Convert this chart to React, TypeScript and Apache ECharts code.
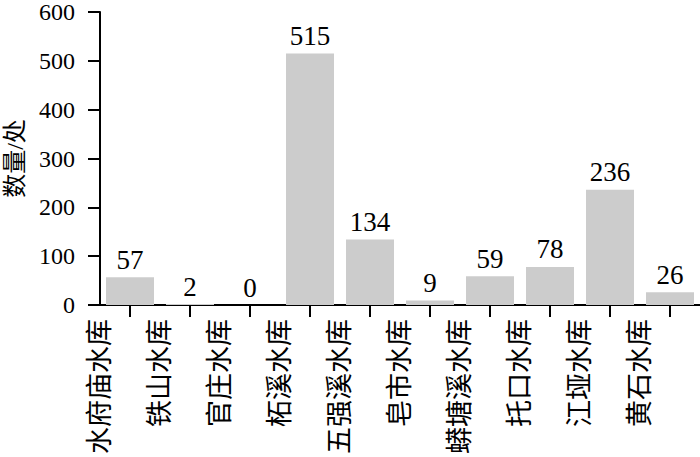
import React, { useEffect, useRef } from "react";
import * as echarts from "echarts";

const categories = ["水府庙水库", "铁山水库", "官庄水库", "柘溪水库", "五强溪水库", "皂市水库", "蟒塘溪水库", "托口水库", "江垭水库", "黄石水库"];
const counts = [57, 2, 0, 515, 134, 9, 59, 78, 236, 26];
const yTicks = { min: 0, max: 600, interval: 100 };
const yName = "数量/处";

const FONT = "'Liberation Serif', 'Times New Roman', 'Noto Sans CJK SC', serif";

export default function App() {
  const ref = useRef<HTMLDivElement>(null);
  useEffect(() => {
    if (!ref.current) return;
    const chart = echarts.init(ref.current, null, { renderer: "svg" });
    chart.setOption({
      animation: false,
      grid: { left: 100, right: 0, top: 12, bottom: 152, containLabel: false, outerBoundsMode: "none" },
      xAxis: {
        type: "category",
        data: categories,
        boundaryGap: true,
        axisLine: { show: true, lineStyle: { color: "#000", width: 2 } },
        axisTick: { show: true, alignWithLabel: true, length: 12, lineStyle: { color: "#000", width: 2 } },
        axisLabel: {
          rotate: 90,
          interval: 0,
          margin: 14,
          color: "#000",
          fontSize: 27,
          lineHeight: 60,
          fontFamily: FONT,
          formatter: (v: string) => v + "\n ",
        },
      },
      yAxis: {
        type: "value",
        min: yTicks.min,
        max: yTicks.max,
        interval: yTicks.interval,
        name: yName,
        nameLocation: "middle",
        nameGap: 73,
        nameTextStyle: { color: "#000", fontSize: 24, fontFamily: FONT },
        splitLine: { show: false },
        axisLine: { show: true, lineStyle: { color: "#000", width: 2 } },
        axisTick: { show: true, length: 12, lineStyle: { color: "#000", width: 2 } },
        axisLabel: { margin: 25, color: "#000", fontSize: 24, fontFamily: FONT },
      },
      series: [
        {
          type: "bar",
          data: counts,
          barWidth: 48,
          itemStyle: { color: "#cccccc" },
          label: {
            show: true,
            position: "top",
            distance: 4,
            color: "#000",
            fontSize: 27,
            fontFamily: FONT,
          },
        },
      ],
    });
    return () => chart.dispose();
  }, []);
  return <div ref={ref} style={{ width: 700, height: 457, position: "absolute", left: 0, top: 0 }} />;
}
